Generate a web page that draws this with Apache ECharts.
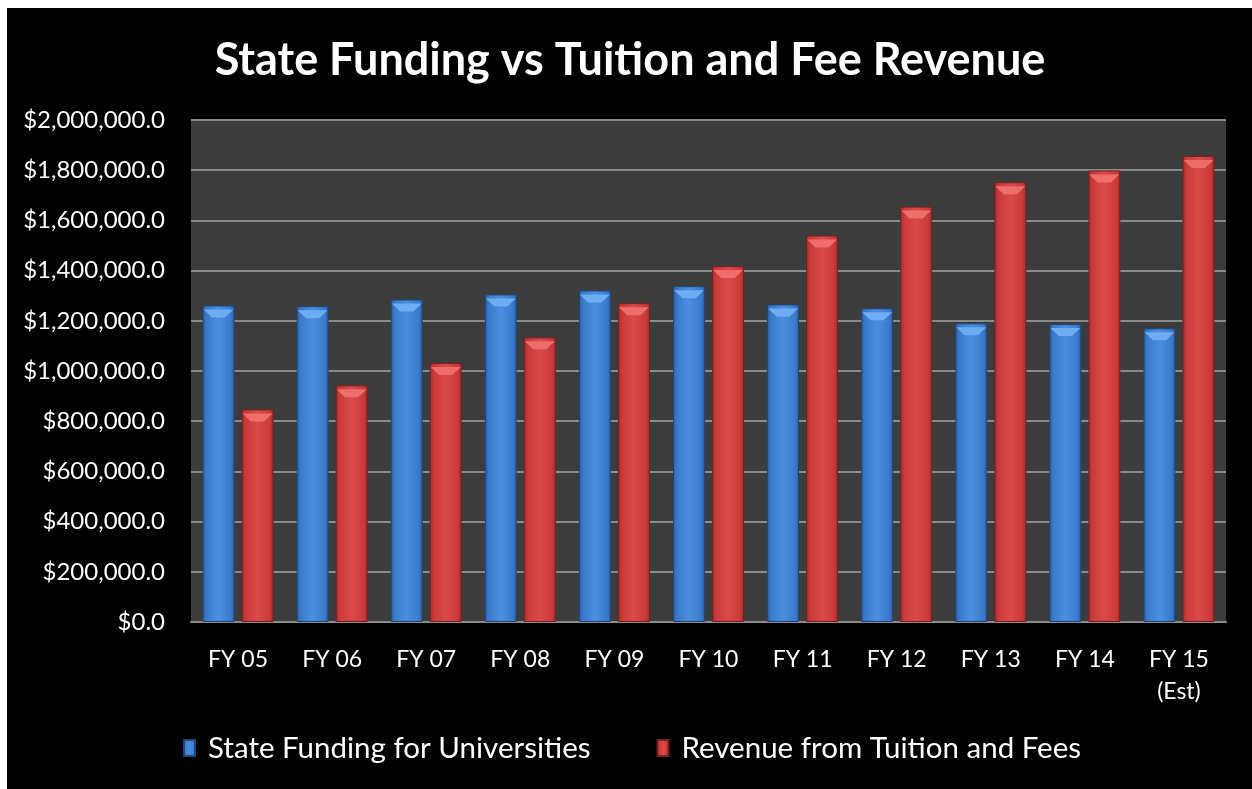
<!DOCTYPE html>
<html>
<head>
<meta charset="utf-8">
<script src="https://cdn.jsdelivr.net/npm/echarts@6/dist/echarts.min.js"></script>
<style>
  html, body { margin: 0; padding: 0; background: #fff; }
  #chart { position: absolute; left: 7px; top: 8px; width: 1245px; height: 781px; background: #000; }
</style>
</head>
<body>
<div id="chart"></div>
<script>
const categories = ['FY 05', 'FY 06', 'FY 07', 'FY 08', 'FY 09', 'FY 10', 'FY 11', 'FY 12', 'FY 13', 'FY 14', 'FY 15\n(Est)']
const stateFunding = [1261000, 1258000, 1285000, 1305000, 1321000, 1338000, 1265000, 1250000, 1190000, 1187000, 1170000]
const tuitionRevenue = [847000, 943000, 1032000, 1134000, 1270000, 1418000, 1540000, 1655000, 1752000, 1799000, 1857000]
const seriesNames = ['State Funding for Universities', 'Revenue from Tuition and Fees']

const FONT = 'Lato, "Open Sans", sans-serif'
const BEVEL = 'path://M0,0 L32,0 L23,8 L9,8 Z'

function barGradient(dark, mid, light) {
  return new echarts.graphic.LinearGradient(0, 0, 1, 0, [
    { offset: 0, color: dark },
    { offset: 0.12, color: mid },
    { offset: 0.5, color: light },
    { offset: 0.88, color: mid },
    { offset: 1, color: dark }
  ])
}

function formatMoney(v) {
  return '$' + Number(v).toLocaleString('en-US') + '.0'
}

// light top face of each bar
function bevel(data, dx, color) {
  return {
    type: 'pictorialBar',
    data: data,
    symbol: BEVEL,
    symbolSize: [30, 8],
    symbolPosition: 'end',
    symbolOffset: [dx, 4],
    silent: true,
    z: 5,
    itemStyle: { color: color }
  }
}

const chart = echarts.init(document.getElementById('chart'))

chart.setOption({
  backgroundColor: '#000',
  animation: false,
  title: {
    text: 'State Funding vs Tuition and Fee Revenue',
    left: 618,
    top: 25,
    textAlign: 'center',
    textStyle: {
      color: '#fff',
      fontFamily: FONT,
      fontWeight: 'bold',
      fontSize: 45
    }
  },
  legend: {
    left: 176,
    top: 725,
    padding: 0,
    itemWidth: 11,
    itemHeight: 16,
    itemGap: 66,
    icon: 'rect',
    textStyle: {
      color: '#fff',
      fontFamily: FONT,
      fontSize: 29.5,
      padding: [0, 0, 0, 8]
    },
    data: seriesNames
  },
  grid: {
    left: 184,
    right: 26,
    top: 112,
    bottom: 167,
    containLabel: false,
    show: true,
    backgroundColor: '#3c3c3c',
    borderWidth: 0
  },
  xAxis: {
    type: 'category',
    data: categories,
    axisLine: { lineStyle: { color: '#8a8a8a', width: 2 } },
    axisTick: { show: false },
    axisLabel: {
      color: '#fff',
      fontFamily: FONT,
      fontSize: 23,
      margin: 22,
      lineHeight: 32
    }
  },
  yAxis: {
    type: 'value',
    min: 0,
    max: 2000000,
    interval: 200000,
    axisLine: { show: false },
    axisTick: { show: false },
    splitLine: { lineStyle: { color: '#8a8a8a', width: 2 } },
    axisLabel: {
      color: '#fff',
      fontFamily: FONT,
      fontSize: 24,
      margin: 26,
      formatter: formatMoney
    }
  },
  series: [
    {
      name: seriesNames[0],
      type: 'bar',
      data: stateFunding,
      barWidth: 32,
      barGap: '22%',
      itemStyle: {
        color: barGradient('#2a5d9e', '#3a7acb', '#4a8ee0'),
        borderColor: '#1f4677',
        borderWidth: 1
      }
    },
    {
      name: seriesNames[1],
      type: 'bar',
      data: tuitionRevenue,
      barWidth: 32,
      itemStyle: {
        color: barGradient('#9e2a2a', '#c93a3a', '#dc4a48'),
        borderColor: '#762020',
        borderWidth: 1
      }
    },
    bevel(stateFunding, -19.5, '#6fadf2'),
    bevel(tuitionRevenue, 19.5, '#ee6e6a')
  ]
})
</script>
</body>
</html>
